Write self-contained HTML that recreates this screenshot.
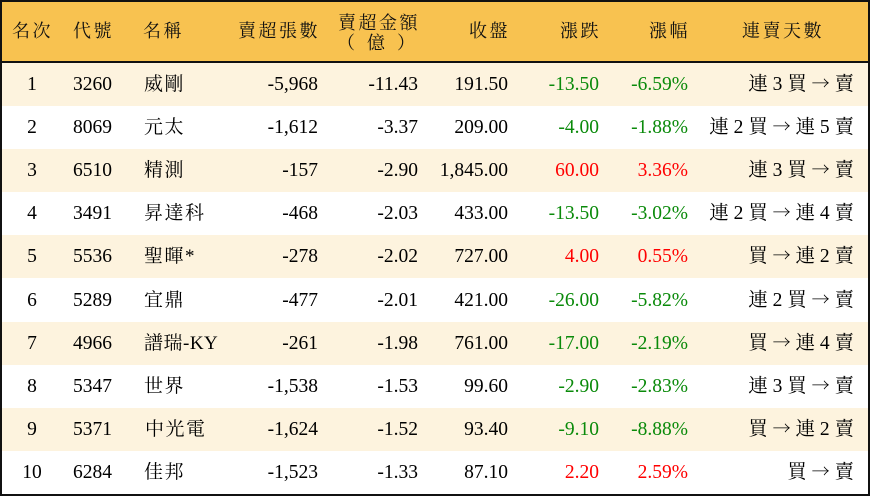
<!DOCTYPE html>
<html><head><meta charset="utf-8">
<style>
html,body{margin:0;padding:0;background:#fff;}
#w{position:relative;width:870px;height:496px;overflow:hidden;background:#fff;
font-family:"Liberation Serif","Noto Serif CJK SC","Noto Serif CJK TC",serif;color:#000;}
.hd{position:absolute;left:0;top:0;width:870px;height:62px;background:#F8C250;}
.hl{position:absolute;left:0;top:61px;width:870px;height:2px;background:#111;}
.h{position:absolute;top:0;height:62px;line-height:62px;font-size:18px;letter-spacing:2.5px;white-space:nowrap;color:#111;}
.h2{position:absolute;font-size:18px;line-height:20px;white-space:nowrap;color:#111;}
.r{position:absolute;left:0;width:870px;height:43.1px;}
.c{background:#FDF3DE;}
.r span{position:absolute;top:0;line-height:43.1px;font-size:19.5px;white-space:nowrap;}
.r span.a{position:static;font-family:"Noto Serif CJK SC","Noto Sans CJK SC",serif;font-size:18px;line-height:1;}
.r .n{font-size:19px;letter-spacing:1.5px;}
.g{color:#0a8a0a;}
.d{color:#f00;}
.bd{position:absolute;left:0;top:0;width:870px;height:496px;box-sizing:border-box;border:2px solid #111;}
</style></head><body>
<div id="w">
<div class="hd"></div>
<div class="hl"></div>
<span class="h" style="left:12px">名次</span>
<span class="h" style="left:73px">代號</span>
<span class="h" style="left:143px">名稱</span>
<span class="h" style="right:550px">賣超張數</span>
<span class="h2" style="right:450px;top:13px;letter-spacing:2.5px">賣超金額</span>
<span class="h2" style="left:337px;top:33px;letter-spacing:12px">（億）</span>
<span class="h" style="right:360px">收盤</span>
<span class="h" style="right:269px">漲跌</span>
<span class="h" style="right:180px">漲幅</span>
<span class="h" style="left:742px">連賣天數</span>

<div class="r c" style="top:63px">
<span style="left:12px;width:40px;text-align:center">1</span><span style="left:73px">3260</span><span class="n" style="left:144px">威剛</span>
<span style="right:552px">-5,968</span><span style="right:452px">-11.43</span><span style="right:362px">191.50</span>
<span class="g" style="right:271px">-13.50</span><span class="g" style="right:182px">-6.59%</span><span style="right:16px">連 3 買 <span class="a">→</span> 賣</span></div>

<div class="r" style="top:106.1px">
<span style="left:12px;width:40px;text-align:center">2</span><span style="left:73px">8069</span><span class="n" style="left:144px">元太</span>
<span style="right:552px">-1,612</span><span style="right:452px">-3.37</span><span style="right:362px">209.00</span>
<span class="g" style="right:271px">-4.00</span><span class="g" style="right:182px">-1.88%</span><span style="right:16px">連 2 買 <span class="a">→</span> 連 5 賣</span></div>

<div class="r c" style="top:149.2px">
<span style="left:12px;width:40px;text-align:center">3</span><span style="left:73px">6510</span><span class="n" style="left:144px">精測</span>
<span style="right:552px">-157</span><span style="right:452px">-2.90</span><span style="right:362px">1,845.00</span>
<span class="d" style="right:271px">60.00</span><span class="d" style="right:182px">3.36%</span><span style="right:16px">連 3 買 <span class="a">→</span> 賣</span></div>

<div class="r" style="top:192.3px">
<span style="left:12px;width:40px;text-align:center">4</span><span style="left:73px">3491</span><span class="n" style="left:144px">昇達科</span>
<span style="right:552px">-468</span><span style="right:452px">-2.03</span><span style="right:362px">433.00</span>
<span class="g" style="right:271px">-13.50</span><span class="g" style="right:182px">-3.02%</span><span style="right:16px">連 2 買 <span class="a">→</span> 連 4 賣</span></div>

<div class="r c" style="top:235.4px">
<span style="left:12px;width:40px;text-align:center">5</span><span style="left:73px">5536</span><span class="n" style="left:144px">聖暉*</span>
<span style="right:552px">-278</span><span style="right:452px">-2.02</span><span style="right:362px">727.00</span>
<span class="d" style="right:271px">4.00</span><span class="d" style="right:182px">0.55%</span><span style="right:16px">買 <span class="a">→</span> 連 2 賣</span></div>

<div class="r" style="top:278.5px">
<span style="left:12px;width:40px;text-align:center">6</span><span style="left:73px">5289</span><span class="n" style="left:144px">宜鼎</span>
<span style="right:552px">-477</span><span style="right:452px">-2.01</span><span style="right:362px">421.00</span>
<span class="g" style="right:271px">-26.00</span><span class="g" style="right:182px">-5.82%</span><span style="right:16px">連 2 買 <span class="a">→</span> 賣</span></div>

<div class="r c" style="top:321.6px">
<span style="left:12px;width:40px;text-align:center">7</span><span style="left:73px">4966</span><span class="n" style="left:144px;letter-spacing:0.5px">譜瑞-KY</span>
<span style="right:552px">-261</span><span style="right:452px">-1.98</span><span style="right:362px">761.00</span>
<span class="g" style="right:271px">-17.00</span><span class="g" style="right:182px">-2.19%</span><span style="right:16px">買 <span class="a">→</span> 連 4 賣</span></div>

<div class="r" style="top:364.7px">
<span style="left:12px;width:40px;text-align:center">8</span><span style="left:73px">5347</span><span class="n" style="left:144px">世界</span>
<span style="right:552px">-1,538</span><span style="right:452px">-1.53</span><span style="right:362px">99.60</span>
<span class="g" style="right:271px">-2.90</span><span class="g" style="right:182px">-2.83%</span><span style="right:16px">連 3 買 <span class="a">→</span> 賣</span></div>

<div class="r c" style="top:407.8px">
<span style="left:12px;width:40px;text-align:center">9</span><span style="left:73px">5371</span><span class="n" style="left:145px">中光電</span>
<span style="right:552px">-1,624</span><span style="right:452px">-1.52</span><span style="right:362px">93.40</span>
<span class="g" style="right:271px">-9.10</span><span class="g" style="right:182px">-8.88%</span><span style="right:16px">買 <span class="a">→</span> 連 2 賣</span></div>

<div class="r" style="top:450.9px">
<span style="left:12px;width:40px;text-align:center">10</span><span style="left:73px">6284</span><span class="n" style="left:144px">佳邦</span>
<span style="right:552px">-1,523</span><span style="right:452px">-1.33</span><span style="right:362px">87.10</span>
<span class="d" style="right:271px">2.20</span><span class="d" style="right:182px">2.59%</span><span style="right:16px">買 <span class="a">→</span> 賣</span></div>

<div class="bd"></div>
</div>
</body></html>
